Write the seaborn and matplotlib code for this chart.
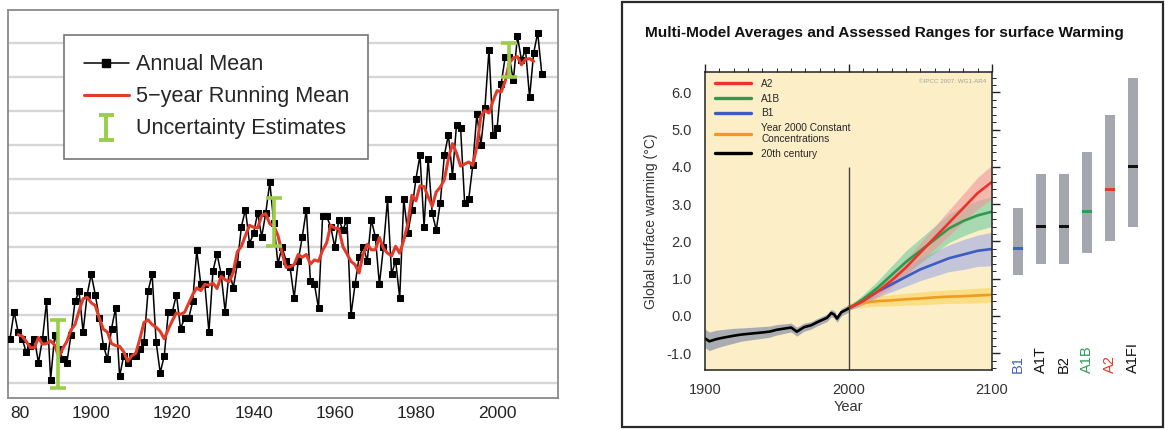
import numpy as np
import pandas as pd
import matplotlib
matplotlib.use("Agg")
import matplotlib.pyplot as plt
from matplotlib import font_manager
from matplotlib.lines import Line2D
from matplotlib.path import Path
from matplotlib.patches import Rectangle
from matplotlib.ticker import MultipleLocator, FormatStrFormatter
import seaborn as sns

# ---- left panel: annual mean temperature anomaly ----
years = list(range(1880, 2012))
annual_mean = [
    -0.27, -0.19, -0.25, -0.27, -0.31, -0.29, -0.27, -0.34, -0.27, -0.16,
    -0.39, -0.26, -0.30, -0.33, -0.34, -0.26, -0.16, -0.13, -0.25, -0.14,
    -0.08, -0.14, -0.21, -0.29, -0.33, -0.24, -0.18, -0.38, -0.32, -0.34,
    -0.32, -0.32, -0.30, -0.28, -0.13, -0.08, -0.28, -0.37, -0.32, -0.19,
    -0.19, -0.14, -0.24, -0.21, -0.21, -0.16, -0.01, -0.11, -0.11, -0.25,
    -0.07, -0.02, -0.08, -0.19, -0.07, -0.12, -0.05, 0.06, 0.11, 0.01,
    0.04, 0.10, 0.03, 0.10, 0.19, 0.07, -0.05, 0.00, -0.04, -0.06,
    -0.15, -0.04, 0.03, 0.11, -0.10, -0.11, -0.18, 0.09, 0.09, 0.06,
    0.00, 0.08, 0.05, 0.08, -0.20, -0.11, -0.03, 0.00, -0.04, 0.08,
    0.03, -0.11, 0.00, 0.14, -0.08, -0.04, -0.15, 0.14, 0.04, 0.11,
    0.20, 0.27, 0.06, 0.26, 0.10, 0.05, 0.13, 0.27, 0.33, 0.21,
    0.36, 0.35, 0.13, 0.14, 0.24, 0.39, 0.30, 0.41, 0.58, 0.33,
    0.35, 0.48, 0.56, 0.56, 0.49, 0.62, 0.55, 0.58, 0.44, 0.57,
    0.63, 0.51,
]
unc_years = [1891.8, 1945.0, 2003.0]
unc_center = [-0.315, 0.073, 0.55]
unc_half = [0.10, 0.07, 0.05]
grid_levels = [-0.4, -0.3, -0.2, -0.1, 0.0, 0.1, 0.2, 0.3, 0.4, 0.5, 0.6]
left_ticks = [1880, 1900, 1920, 1940, 1960, 1980, 2000]
left_tick_labels = ["80", "1900", "1920", "1940", "1960", "1980", "2000"]

# ---- right panel: IPCC multi-model averages ----
hist_years = [1900, 1903, 1908, 1913, 1920, 1925, 1930, 1938, 1945, 1950, 1955,
              1960, 1964, 1969, 1974, 1978, 1982, 1985, 1988, 1990, 1992, 1995, 2000]
hist_mean = [-0.60, -0.68, -0.62, -0.58, -0.53, -0.50, -0.48, -0.45, -0.42, -0.37, -0.34,
             -0.31, -0.42, -0.30, -0.25, -0.17, -0.10, -0.05, 0.08, 0.04, -0.07, 0.10, 0.20]
hist_spread = [0.25, 0.25, 0.24, 0.22, 0.20, 0.18, 0.17, 0.16, 0.15, 0.14, 0.13,
               0.12, 0.12, 0.11, 0.10, 0.10, 0.10, 0.10, 0.10, 0.10, 0.10, 0.10, 0.10]
proj_years = [2000, 2010, 2020, 2030, 2040, 2050, 2060, 2070, 2080, 2090, 2100]
a2_mean = [0.20, 0.40, 0.65, 0.95, 1.30, 1.70, 2.10, 2.50, 2.90, 3.30, 3.60]
a2_spread = [0.05, 0.10, 0.14, 0.18, 0.22, 0.26, 0.30, 0.34, 0.38, 0.42, 0.45]
a1b_mean = [0.20, 0.45, 0.75, 1.10, 1.45, 1.75, 2.05, 2.35, 2.55, 2.70, 2.80]
a1b_spread = [0.05, 0.12, 0.18, 0.24, 0.30, 0.33, 0.36, 0.38, 0.40, 0.40, 0.40]
b1_mean = [0.20, 0.40, 0.65, 0.85, 1.05, 1.25, 1.40, 1.55, 1.65, 1.75, 1.80]
b1_spread = [0.05, 0.10, 0.15, 0.20, 0.25, 0.30, 0.33, 0.36, 0.40, 0.42, 0.45]
const_mean = [0.25, 0.35, 0.40, 0.42, 0.45, 0.47, 0.50, 0.52, 0.53, 0.55, 0.57]
const_spread = [0.08, 0.12, 0.14, 0.15, 0.16, 0.17, 0.18, 0.18, 0.19, 0.20, 0.20]

scenarios = ["B1", "A1T", "B2", "A1B", "A2", "A1FI"]
range_low = [1.1, 1.4, 1.4, 1.7, 2.0, 2.4]
range_high = [2.9, 3.8, 3.8, 4.4, 5.4, 6.4]
best_est = [1.8, 2.4, 2.4, 2.8, 3.4, 4.0]
scen_colors = ["#3f62c4", "#111111", "#111111", "#2e9e55", "#e53a2a", "#111111"]

sns.set_theme(style="white")
plt.rcParams["font.family"] = ["Liberation Sans", "DejaVu Sans"]

installed = {f.name for f in font_manager.fontManager.ttflist}
if "Liberation Sans Narrow" in installed:
    title_font, title_size = ["Liberation Sans Narrow", "DejaVu Sans"], 13.5
else:
    title_font, title_size = ["Liberation Sans", "DejaVu Sans"], 11.1

W, H = 1165, 429
fig = plt.figure(figsize=(W / 100, H / 100), dpi=100)

# ================= left panel =================
df = pd.DataFrame({"year": years, "anomaly": annual_mean})
df["running"] = df["anomaly"].rolling(5, center=True).mean()

ax1 = fig.add_axes([8 / W, 1 - 398 / H, 550 / W, 388.5 / H])
for g in grid_levels:
    ax1.axhline(g, color="#d6d6d6", lw=1.7, zorder=0)
sns.lineplot(data=df, x="year", y="anomaly", ax=ax1, color="black", lw=1.1,
             marker="s", markersize=5, markeredgecolor="black", zorder=3)
sns.lineplot(data=df.dropna(), x="year", y="running", ax=ax1, color="#e33b2a",
             lw=2.2, zorder=4)
ax1.errorbar(unc_years, unc_center, yerr=unc_half, fmt="none", ecolor="#9acd4a",
             elinewidth=2.6, capsize=6, capthick=2.6, zorder=5)
ax1.set_xlim(1879.5, 2015)
ax1.set_ylim(-0.444, 0.6985)
ax1.set_xticks(left_ticks)
ax1.set_xticklabels(left_tick_labels)
ax1.get_xticklabels()[0].set_horizontalalignment("left")
ax1.set_yticks([])
ax1.set_xlabel("")
ax1.set_ylabel("")
ax1.tick_params(axis="x", length=0, labelsize=12.5, pad=6, colors="#222222")
for s in ax1.spines.values():
    s.set_color("#8a8a8a")
    s.set_linewidth(1.3)

ibar = Path([(-0.6, 1), (0.6, 1), (0, 1), (0, -1), (-0.6, -1), (0.6, -1)],
            [Path.MOVETO, Path.LINETO, Path.MOVETO, Path.LINETO, Path.MOVETO, Path.LINETO])
handles = [
    Line2D([], [], color="black", lw=1.1, marker="s", markersize=5.5),
    Line2D([], [], color="#e33b2a", lw=2.2),
    Line2D([], [], ls="none", marker=ibar, markersize=18, markerfacecolor="none",
           markeredgecolor="#9acd4a", mew=2.8),
]
leg = ax1.legend(handles, ["Annual Mean", "5\u2212year Running Mean", "Uncertainty Estimates"],
                 loc="upper left", bbox_to_anchor=(64 / W, 1 - 35 / H),
                 bbox_transform=fig.transFigure, fontsize=15.6, frameon=True,
                 fancybox=False, edgecolor="#777777", framealpha=1, borderpad=0.9,
                 labelspacing=0.5, handlelength=2.1, handletextpad=0.3, borderaxespad=0)
leg.get_frame().set_linewidth(1.2)

# ================= right panel =================
fig.patches.append(Rectangle((622 / W, 2 / H), 541 / W, 425 / H, transform=fig.transFigure,
                             fill=False, edgecolor="#2a2a2a", lw=1.6))
fig.text(645 / W, 1 - 33 / H, "Multi-Model Averages and Assessed Ranges for surface Warming",
         fontsize=title_size, fontweight="bold", family=title_font, va="center", ha="left",
         color="#111111")

ax2 = fig.add_axes([705 / W, 1 - 370 / H, 287 / W, 298 / H])
ax2.set_facecolor("#fcefc8")

hist = pd.DataFrame({"year": hist_years, "mean": hist_mean, "sd": hist_spread})
ax2.fill_between(hist["year"], hist["mean"] - hist["sd"], hist["mean"] + hist["sd"],
                 color="#8e97aa", alpha=0.75, lw=0)

proj = pd.DataFrame({"year": proj_years,
                     "A2": a2_mean, "A2_sd": a2_spread,
                     "A1B": a1b_mean, "A1B_sd": a1b_spread,
                     "B1": b1_mean, "B1_sd": b1_spread,
                     "const": const_mean, "const_sd": const_spread})
bands = [("const", "#f8d35a"), ("B1", "#9fa9e3"), ("A1B", "#6fcca0"), ("A2", "#f0949a")]
for key, col in bands:
    ax2.fill_between(proj["year"], proj[key] - proj[key + "_sd"], proj[key] + proj[key + "_sd"],
                     color=col, alpha=0.6, lw=0)

line_cols = {"A2": "#e8342a", "A1B": "#2f9a4c", "B1": "#3b5cc4", "const": "#f39a1c"}
for key in ["const", "B1", "A1B", "A2"]:
    sns.lineplot(data=proj, x="year", y=key, ax=ax2, color=line_cols[key], lw=1.9, legend=False)
sns.lineplot(data=hist, x="year", y="mean", ax=ax2, color="black", lw=1.9, legend=False)
ax2.vlines(2000, -1.45, 4.0, color="#444444", lw=1.0)

ax2.set_xlim(1900, 2100)
ax2.set_ylim(-1.45, 6.55)
ax2.set_xticks([1900, 2000, 2100])
ax2.xaxis.set_minor_locator(MultipleLocator(10))
ax2.yaxis.set_major_locator(MultipleLocator(1))
ax2.yaxis.set_minor_locator(MultipleLocator(0.2))
ax2.yaxis.set_major_formatter(FormatStrFormatter("%.1f"))
ax2.tick_params(which="both", direction="out", top=True, right=True, colors="#222222",
                labelsize=10.5, labelcolor="#333333")
ax2.tick_params(which="major", length=6, width=1.0)
ax2.tick_params(which="minor", length=3, width=0.7)
ax2.set_xlabel("Year", fontsize=10.5, color="#333333", labelpad=2)
ax2.set_ylabel("Global surface warming (\u00b0C)", fontsize=10, color="#333333", labelpad=6)
for s in ax2.spines.values():
    s.set_color("#222222")
    s.set_linewidth(1.1)

leg_handles = [Line2D([], [], color=line_cols["A2"], lw=2.4),
               Line2D([], [], color=line_cols["A1B"], lw=2.4),
               Line2D([], [], color=line_cols["B1"], lw=2.4),
               Line2D([], [], color=line_cols["const"], lw=2.4),
               Line2D([], [], color="black", lw=2.4)]
ax2.legend(leg_handles, ["A2", "A1B", "B1", "Year 2000 Constant\nConcentrations", "20th century"],
           loc="upper left", bbox_to_anchor=(0.02, 0.99), frameon=False, fontsize=7.3,
           handlelength=3.6, labelspacing=0.45, handletextpad=1.0, borderaxespad=0)
ax2.text(0.98, 0.975, "\u00a9IPCC 2007: WG1-AR4", transform=ax2.transAxes, ha="right",
         va="top", fontsize=4.5, color="#a0a0a0")

# assessed ranges to the right
ax3 = fig.add_axes([995 / W, 1 - 370 / H, 165 / W, 298 / H])
ax3.set_ylim(-1.45, 6.55)
ax3.set_xlim(-1.0, 6.17)
ax3.axis("off")
pos = np.arange(len(scenarios))
ax3.bar(pos, np.array(range_high) - np.array(range_low), bottom=range_low, width=0.43,
        color="#a4a7ae", lw=0)
ax3.bar(pos, 0.08, bottom=np.array(best_est) - 0.04, width=0.43, color=scen_colors, lw=0)
for i, name in enumerate(scenarios):
    ax3.text(i, -1.53, name, rotation=90, ha="center", va="bottom", fontsize=10.5,
             color=scen_colors[i], clip_on=False)

fig.savefig("out.png", dpi=100)
